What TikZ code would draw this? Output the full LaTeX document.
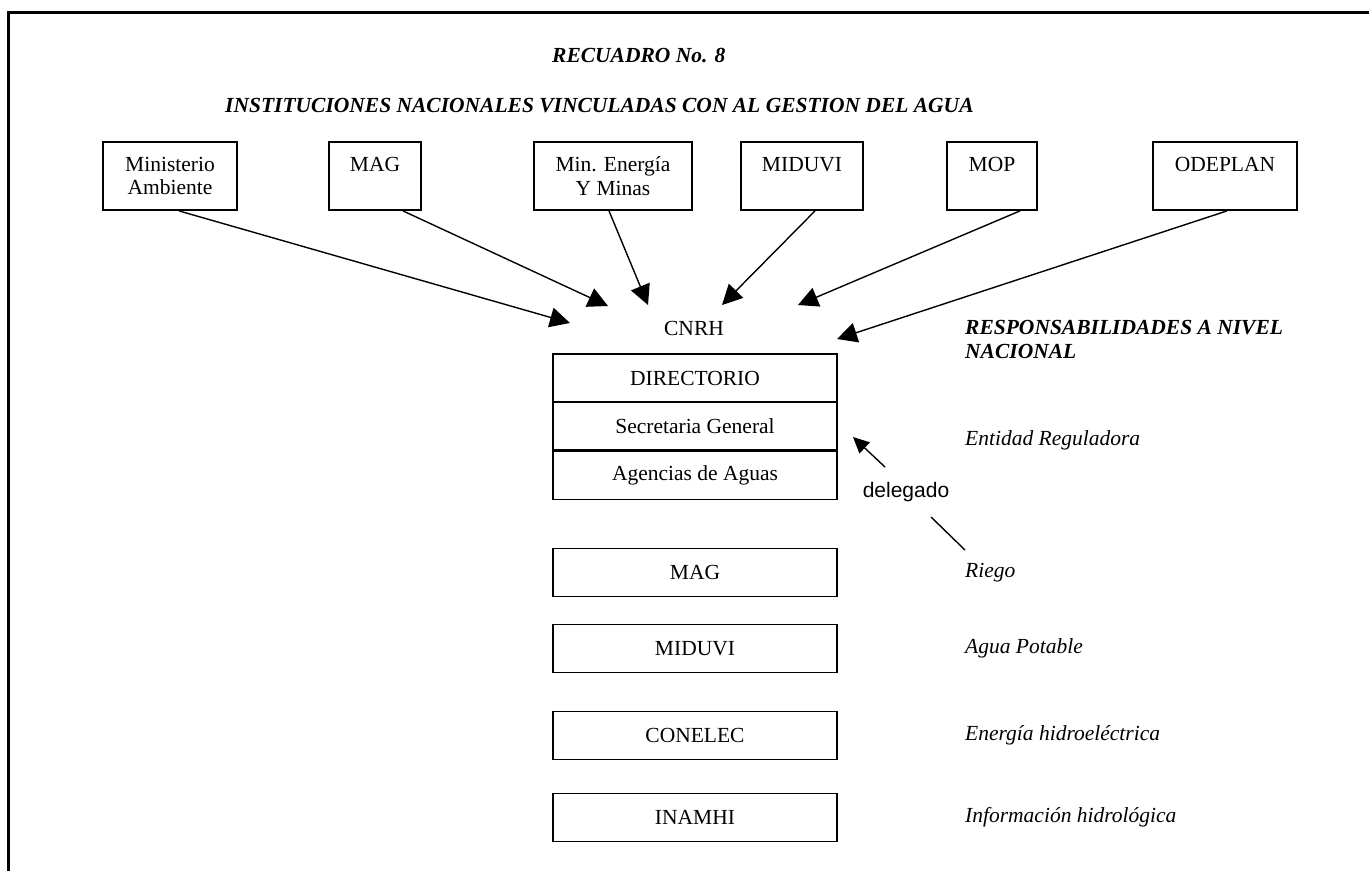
\documentclass[tikz,border=0pt]{standalone}
\usepackage{fontspec}
\setmainfont{Liberation Serif}
\newfontfamily\delegfont{Liberation Sans}
\usetikzlibrary{arrows.meta,positioning}
\newcommand{\cuerpo}{\fontsize{21.5}{23.5}\selectfont}
\tikzset{
  instbox/.style={draw,line width=1.8pt,minimum height=68pt,align=center,inner sep=0pt},
  cnrhbox/.style={draw,line width=1.4pt,minimum width=284pt,minimum height=48pt,inner sep=0pt},
  resp/.style={anchor=west,inner sep=0pt,font=\cuerpo\itshape},
  titulo/.style={anchor=west,inner sep=0pt,font=\cuerpo\bfseries\itshape},
  flecha/.style={line width=1.4pt,-{Triangle[length=20pt,width=20pt]}}
}

\begin{document}
\begin{tikzpicture}[x=1pt,y=-1pt,font=\cuerpo]
\useasboundingbox (0,0) rectangle (1369,871);
% marco abierto
\draw[line width=3pt] (8.5,871) -- (8.5,12.5) -- (1369,12.5);
\node[titulo] (recuadro) at (552,55) {RECUADRO No. 8};
\node[titulo] (instit) at (225,106) {INSTITUCIONES NACIONALES VINCULADAS CON AL GESTION DEL AGUA};
% instituciones
\node[instbox,minimum width=134pt] (mamb) at (170,176) {Ministerio\\Ambiente};
\node[instbox,minimum width=92pt] (mag) at (375,176) {MAG\\~};
\node[instbox,minimum width=158pt] (mine) at (613,176) {Min. Energía\\Y Minas};
\node[instbox,minimum width=122pt] (miduvi) at (802,176) {MIDUVI\\~};
\node[instbox,minimum width=90pt] (mop) at (992,176) {MOP\\~};
\node[instbox,minimum width=144pt] (odeplan) at (1225,176) {ODEPLAN\\~};
\node (cnrh) at (694,328) {CNRH};
\coordinate (p1) at (570,323);
\coordinate (p2) at (608,306);
\coordinate (p3) at (648,305);
\coordinate (p4) at (722,305);
\coordinate (p5) at (798,305);
\coordinate (p6) at (837,339);
\draw[flecha] ([xshift=9pt]mamb.south) -- (p1);
\draw[flecha] ([xshift=28pt]mag.south) -- (p2);
\draw[flecha] ([xshift=-4pt]mine.south) -- (p3);
\draw[flecha] ([xshift=13pt]miduvi.south) -- (p4);
\draw[flecha] ([xshift=28pt]mop.south) -- (p5);
\draw[flecha] ([xshift=2pt]odeplan.south) -- (p6);
% CNRH
\node[cnrhbox] (dir) at (695,378) {DIRECTORIO};
\node[cnrhbox] (sec) at (695,426) {Secretaria General};
\node[cnrhbox] (agen) at (695,475.5) {Agencias de Aguas};
\node[cnrhbox] (mag2) at (695,572.5) {MAG};
\node[cnrhbox] (miduvi2) at (695,648.5) {MIDUVI};
\node[cnrhbox] (conelec) at (695,735.5) {CONELEC};
\node[cnrhbox] (inamhi) at (695,817.5) {INAMHI};
% responsabilidades
\node[titulo,align=left] (nivel) at (965,339.5) {RESPONSABILIDADES A NIVEL\\NACIONAL};
\node[resp] (reg) at (965,440) {Entidad Reguladora};
\node[resp] (riego) at (965,572.5) {Riego};
\node[resp] (agua) at (965,648.5) {Agua Potable};
\node[resp] (energia) at (965,735.5) {Energía hidroeléctrica};
\node[resp] (info) at (965,817.5) {Información hidrológica};
% delegado
\node[inner sep=0pt,font=\delegfont\fontsize{21}{23}\selectfont] (deleg) at (906,492) {delegado};
\coordinate (dtail) at (885,467);
\coordinate (dtip) at (853,437);
\coordinate (dlow) at (931,517);
\coordinate (driego) at (965,550);
\draw[line width=1.4pt,-{Triangle[length=16pt,width=15pt]}] (dtail) -- (dtip);
\draw[line width=1.4pt] (dlow) -- (driego);
\end{tikzpicture}
\end{document}
